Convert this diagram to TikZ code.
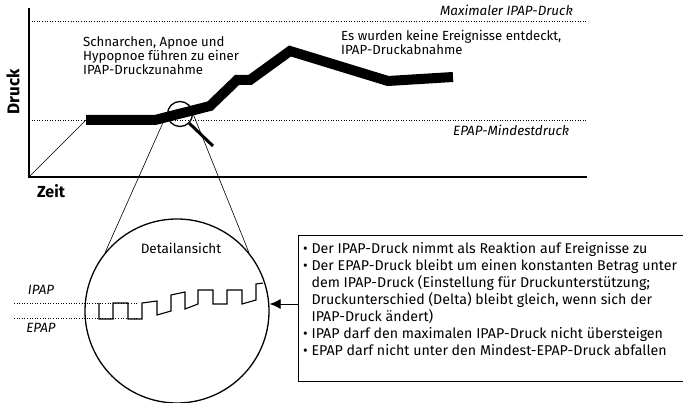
\documentclass[tikz,border=0pt]{standalone}
\usepackage{fontspec}
\setmainfont{Fira Sans}
\usetikzlibrary{arrows.meta,positioning,calc}

\begin{document}
\begin{tikzpicture}[x=1pt, y=-1pt,
    axis/.style={line width=1.3pt},
    limit/.style={dotted, line width=0.6pt},
    curve/.style={line width=10pt, line join=miter},
    thinline/.style={line width=0.6pt},
    note/.style={anchor=north west, inner sep=0pt, align=left, font=\fontsize{13.2}{14}\selectfont},
    tag/.style={inner sep=0pt, font=\fontsize{13.4}{15}\selectfont\itshape},
    arrow/.style={-{Latex[length=11pt,width=10pt]}, line width=0.8pt}
]
\useasboundingbox (0,0) rectangle (683,403);

% Axes
\coordinate (origin) at (29,177);
\coordinate (ytop) at (29,8);
\coordinate (xend) at (587,177);
\draw[axis] (ytop) -- (origin) -- (xend);
\node[rotate=90, inner sep=0pt, font=\fontsize{17}{20}\selectfont\bfseries] (druck) at (13,92) {Druck};
\node[inner sep=0pt, font=\fontsize{16}{19}\selectfont\bfseries] (zeit) at (51,191) {Zeit};

% Limits
\coordinate (maxL) at (29,21);
\coordinate (maxR) at (587,21);
\coordinate (minL) at (29,120);
\coordinate (minR) at (587,120);
\draw[limit] (maxL) -- (maxR);
\draw[limit] (minL) -- (minR);
\node[tag, anchor=base east] (maxtag) at (573,16) {Maximaler IPAP-Druck};
\node[tag, anchor=west] (mintag) at (453,130) {EPAP-Mindestdruck};

% Notes
\node[note] (rise) at (83,36) {Schnarchen, Apnoe und\\Hypopnoe führen zu einer\\IPAP-Druckzunahme};
\node[note] (fall) at (341,30) {Es wurden keine Ereignisse entdeckt,\\IPAP-Druckabnahme};

% Detail view
\node[circle, draw, line width=1.3pt, minimum size=184pt, inner sep=0pt] (detail) at (177,311) {};
\node[inner sep=0pt, font=\fontsize{13.5}{16}\selectfont] (title) at (181,248) {Detailansicht};
\node[circle, draw, line width=1.3pt, minimum size=25pt, inner sep=0pt] (lens) at (180,114) {};
\coordinate (grip) at (213,146);
\draw[thinline] (lens.west) -- (detail.141);
\draw[thinline] (lens.east) -- (detail.39);

% Pressure curve
\draw[thinline] (origin) -- (86,120);
\draw[curve] (86,120) -- (155,120) -- (210,106) -- (237,80) -- (250,80)
    -- (290,51) -- (388,81) -- (453,77);
\draw[line width=3pt] (lens.-45) -- (grip);

% IPAP / EPAP levels
\coordinate (ipapL) at (14,303);
\coordinate (ipapR) at (137,303);
\coordinate (epapL) at (14,318);
\coordinate (epapR) at (137,318);
\draw[limit] (ipapL) -- (ipapR);
\draw[limit] (epapL) -- (epapR);
\node[tag] (ipap) at (41,290) {IPAP};
\node[tag] (epap) at (41,328) {EPAP};
\draw[line width=1.1pt] (99,303) -- (99,319) -- (113,319) -- (113,303) -- (128,303)
    -- (128,319) -- (142,319) -- (142,303) -- (157,301) -- (157,315)
    -- (171,311) -- (171,295) -- (185,292) -- (185,309) -- (198,304)
    -- (198,290) -- (213,290) -- (213,304) -- (227,304) -- (227,290)
    -- (242,290) -- (242,304) -- (256,300) -- (256,284) -- (263,283);

% Facts box
\node[draw, line width=0.8pt, anchor=north west, minimum width=400pt, minimum height=146pt] (facts) at (298,235) {};
\node[anchor=north west, inner sep=0pt, align=left,
      font=\fontsize{14.2}{17}\selectfont] (factstext) at ($(facts.north west)+(5,7)$) {%
    • Der IPAP-Druck nimmt als Reaktion auf Ereignisse zu\\
    • Der EPAP-Druck bleibt um einen konstanten Betrag unter\\
    \phantom{•} dem IPAP-Druck (Einstellung für Druckunterstützung;\\
    \phantom{•} Druckunterschied (Delta) bleibt gleich, wenn sich der\\
    \phantom{•} IPAP-Druck ändert)\\
    • IPAP darf den maximalen IPAP-Druck nicht übersteigen\\
    • EPAP darf nicht unter den Mindest-EPAP-Druck abfallen};
\draw[arrow] (facts.west |- 0,304) -- (detail.east |- 0,304);
\end{tikzpicture}
\end{document}
